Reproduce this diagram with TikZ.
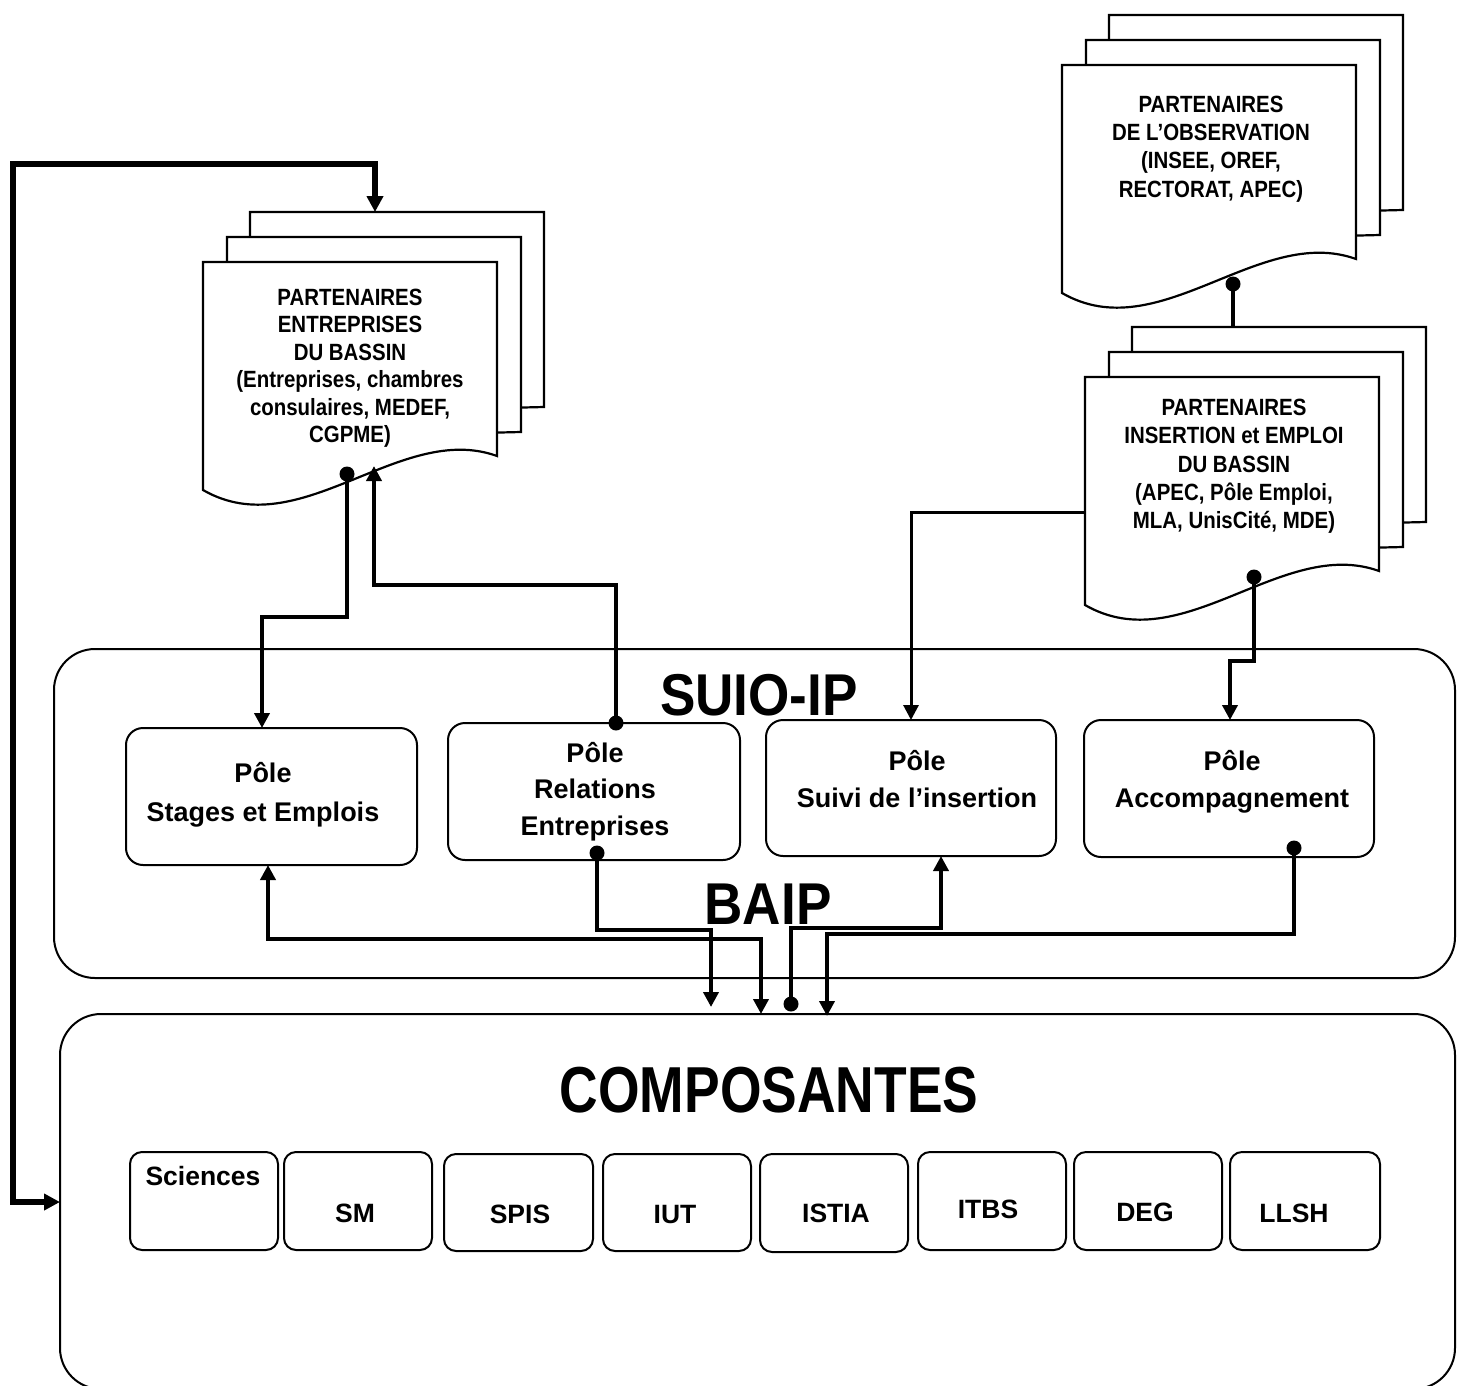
\documentclass[tikz,border=0pt]{standalone}
\usepackage{fontspec}
\setmainfont{Liberation Sans}
\newfontfamily\fDoc{Liberation Sans}[FakeStretch=0.87]
\newfontfamily\fTit{Liberation Sans}[FakeStretch=0.9]
\newfontfamily\fCmp{Liberation Sans}[FakeStretch=0.822]
\usetikzlibrary{arrows.meta}
\tikzset{
  Tri/.tip={Triangle[length=15pt,width=15pt]},
  BigTri/.tip={Triangle[length=16pt,width=16pt]},
  conn/.style={line width=4pt},
  fbline/.style={line width=5.5pt},
  slimconn/.style={line width=3pt},
  page/.style={draw, line width=2.2pt, fill=white},
  polebox/.style={draw, line width=2pt, rounded corners=17pt, inner sep=0pt},
  bigbox/.style={draw, line width=2pt, rounded corners=41pt, inner sep=0pt},
  compbox/.style={draw, line width=2pt, rounded corners=12pt, inner sep=0pt},
  doctxt/.style={font=\fDoc\bfseries\fontsize{23.5}{28}\selectfont, anchor=base, inner sep=0pt},
  poletxt/.style={font=\bfseries\fontsize{27}{32}\selectfont, anchor=base, inner sep=0pt},
  comptxt/.style={font=\bfseries\fontsize{26.5}{32}\selectfont, anchor=base, inner sep=0pt},
  titletxt/.style={font=\fTit\bfseries\fontsize{59}{70}\selectfont, anchor=base, inner sep=0pt},
  bigtitle/.style={font=\fCmp\bfseries\fontsize{65}{78}\selectfont, anchor=base, inner sep=0pt},
}
% box node: name, style, x1, y1, x2, y2
\newcommand\bx[6]{\node[#2, minimum width={#5-#3}, minimum height={#6-#4}] (#1) at ({(#3+#5)/2},{(#4+#6)/2}) {};}
% multi-document: name, left, top of front page
\newcommand\mdoc[3]{%
  \draw[page] (#2+47,#3-50) -- (#2+341,#3-50) -- (#2+341,#3+145) -- (#2+47,#3+152) -- cycle;
  \draw[page] (#2+24,#3-25) -- (#2+318,#3-25) -- (#2+318,#3+170) -- (#2+24,#3+177) -- cycle;
  \draw[page] (#2,#3) -- (#2+294,#3) -- (#2+294,#3+194) .. controls (#2+197,#3+159) and (#2+97,#3+284) .. (#2,#3+228) -- cycle;
  \coordinate (#1) at (#2,#3);}
\begin{document}
\begin{tikzpicture}[x=1pt,y=-1pt]
\useasboundingbox[fill=white] (0,0) rectangle (1457,1385);

% big frames
\bx{suio}{bigbox}{54}{649}{1455}{978}
\bx{comp}{bigbox}{60}{1014}{1455}{1389}

% poles
\bx{stages}{polebox}{126}{728}{417}{865}
\bx{relations}{polebox}{448}{723}{740}{860}
\bx{suivi}{polebox}{766}{720}{1056}{856}
\bx{accomp}{polebox}{1084}{720}{1374}{857}

% composantes
\bx{bSci}{compbox}{130}{1152}{278}{1250}
\bx{bSM}{compbox}{284}{1152}{432}{1250}
\bx{bSPIS}{compbox}{444}{1154}{593}{1251}
\bx{bIUT}{compbox}{603}{1154}{751}{1251}
\bx{bISTIA}{compbox}{760}{1154}{908}{1252}
\bx{bITBS}{compbox}{918}{1152}{1066}{1250}
\bx{bDEG}{compbox}{1074}{1152}{1222}{1250}
\bx{bLLSH}{compbox}{1230}{1152}{1380}{1250}

% documents
\mdoc{ent}{203}{262}
\mdoc{obs}{1062}{65}
\mdoc{ins}{1085}{377}

% titles
\node[titletxt] (tSuio) at (759,715) {SUIO-IP};
\node[titletxt] (tBaip) at (768,924) {BAIP};
\node[bigtitle] (tComp) at (769,1112) {COMPOSANTES};

% pole texts
\node[poletxt] (st1) at (263,782) {Pôle};
\node[poletxt] (st2) at (263,821) {Stages et Emplois};
\node[poletxt] (re1) at (595,762) {Pôle};
\node[poletxt] (re2) at (595,798) {Relations};
\node[poletxt] (re3) at (595,835) {Entreprises};
\node[poletxt] (su1) at (917,770) {Pôle};
\node[poletxt] (su2) at (917,807) {Suivi de l’insertion};
\node[poletxt] (ac1) at (1232,770) {Pôle};
\node[poletxt] (ac2) at (1232,807) {Accompagnement};

% document texts
\node[doctxt] (en1) at (350,305) {PARTENAIRES};
\node[doctxt] (en2) at (350,332.5) {ENTREPRISES};
\node[doctxt] (en3) at (350,360) {DU BASSIN};
\node[doctxt] (en4) at (350,387.5) {(Entreprises, chambres};
\node[doctxt] (en5) at (350,415) {consulaires, MEDEF,};
\node[doctxt] (en6) at (350,442) {CGPME)};
\node[doctxt] (ob1) at (1211,112) {PARTENAIRES};
\node[doctxt] (ob2) at (1211,140) {DE L’OBSERVATION};
\node[doctxt] (ob3) at (1211,168) {(INSEE, OREF,};
\node[doctxt] (ob4) at (1211,197) {RECTORAT, APEC)};
\node[doctxt] (in1) at (1234,415) {PARTENAIRES};
\node[doctxt] (in2) at (1234,443) {INSERTION et EMPLOI};
\node[doctxt] (in3) at (1234,472) {DU BASSIN};
\node[doctxt] (in4) at (1234,500) {(APEC, Pôle Emploi,};
\node[doctxt] (in5) at (1234,528) {MLA, UnisCité, MDE)};

% composantes texts
\node[comptxt] (cSci) at (203,1185) {Sciences};
\node[comptxt] (cSM) at (355,1222) {SM};
\node[comptxt] (cSPIS) at (520,1223) {SPIS};
\node[comptxt] (cIUT) at (675,1223) {IUT};
\node[comptxt] (cISTIA) at (836,1222) {ISTIA};
\node[comptxt] (cITBS) at (988,1218) {ITBS};
\node[comptxt] (cDEG) at (1145,1221) {DEG};
\node[comptxt] (cLLSH) at (1294,1222) {LLSH};

% connector points
\coordinate (entTop) at (375,212);
\coordinate (fbCorner) at (13,164);
\coordinate (compL) at (60,1202);
\coordinate (entDot) at (347,474);
\coordinate (entArr) at (374,466);
\coordinate (k2) at (262,617);
\coordinate (stN) at (262,728);
\coordinate (k3) at (374,585);
\coordinate (relTop) at (616,723);
\coordinate (relBot) at (597,853);
\coordinate (k4) at (711,930);
\coordinate (e4) at (711,1007);
\coordinate (stS) at (268,865);
\coordinate (k5) at (761,939);
\coordinate (e5) at (761,1014);
\coordinate (s6) at (791,1004);
\coordinate (k6) at (941,928);
\coordinate (suS) at (941,856);
\coordinate (acBot) at (1294,848);
\coordinate (k7) at (827,934);
\coordinate (e7) at (827,1016);
\coordinate (obsDot) at (1233,284);
\coordinate (insTop) at (1233,327);
\coordinate (insL) at (1085,512);
\coordinate (suN) at (911,720);
\coordinate (insDot) at (1254,577);
\coordinate (k10) at (1230,661);
\coordinate (acN) at (1230,720);

% connectors
\draw[fbline, BigTri-BigTri] (entTop) |- (fbCorner) |- (compL);
\draw[conn, -Tri] (entDot) |- (k2) -- (stN);
\draw[conn, -Tri] (relTop) |- (k3) -- (entArr);
\draw[conn, -Tri] (relBot) |- (k4) -- (e4);
\draw[conn, Tri-Tri] (stS) |- (k5) -- (e5);
\draw[conn, -Tri] (s6) |- (k6) -- (suS);
\draw[conn, -Tri] (acBot) |- (k7) -- (e7);
\draw[conn] (obsDot) -- (insTop);
\draw[slimconn, -Tri] (insL) -| (suN);
\draw[conn, -Tri] (insDot) |- (k10) -- (acN);
\foreach \p in {entDot,relTop,relBot,s6,acBot,obsDot,insDot} \fill (\p) circle (7.5pt);
\end{tikzpicture}
\end{document}
